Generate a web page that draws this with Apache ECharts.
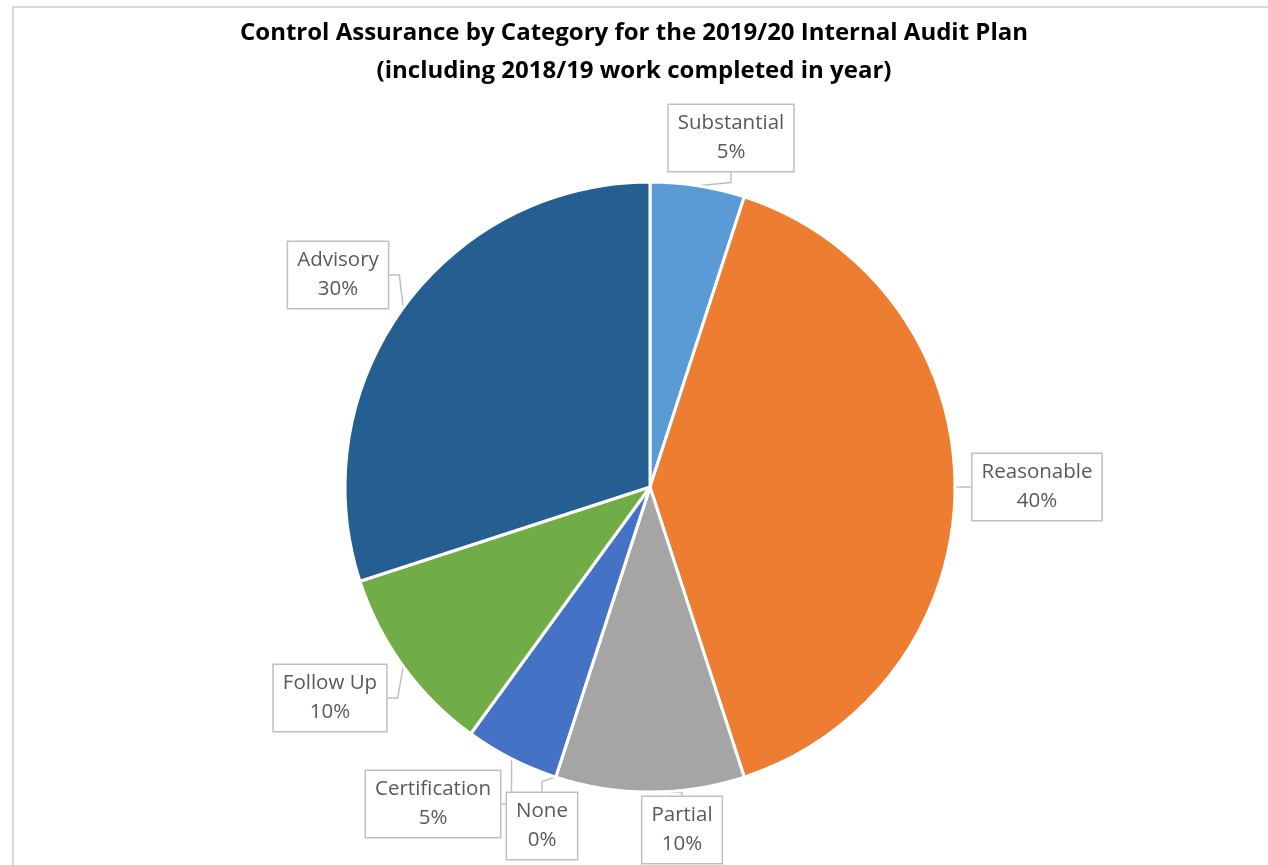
<!DOCTYPE html>
<html><head><meta charset="utf-8">
<script src="https://cdn.jsdelivr.net/npm/echarts@6/dist/echarts.min.js"></script>
<style>
html,body{margin:0;padding:0;background:#fff;}
#frame{position:absolute;left:12px;top:6px;width:1300px;height:900px;border:2px solid #d9d9d9;box-sizing:border-box;}
#main{position:absolute;left:0;top:0;width:1268px;height:865px;}
</style></head>
<body>
<div id="frame"></div>
<div id="main"></div>
<script>
const titleLines = ['Control Assurance by Category for the 2019/20 Internal Audit Plan', '(including 2018/19 work completed in year)'];
const categories = ['Substantial', 'Reasonable', 'Partial', 'None', 'Certification', 'Follow Up', 'Advisory'];
const values = [5, 40, 10, 0, 5, 10, 30];
const colors = ['#5B9BD5', '#ED7D31', '#A5A5A5', '#FFC000', '#4472C4', '#70AD47', '#255E91'];
// label box centres (layout only)
const labelPos = [[731,138],[1037,487],[682,830],[542,826],[433,804],[330,698],[338,275]];

const chart = echarts.init(document.getElementById('main'), null, {renderer:'canvas'});
chart.setOption({
  backgroundColor: 'transparent',
  title: {
    text: titleLines.join('\n'),
    left: 'center', top: 9,
    textStyle: {fontFamily: 'Open Sans', fontWeight: 'bold', fontSize: 24, color: '#000', lineHeight: 38}
  },
  series: [{
    type: 'pie',
    center: [650, 487],
    radius: 305,
    startAngle: 90,
    clockwise: true,
    avoidLabelOverlap: false,
    animation: false,
    data: categories.map((c, i) => ({name: c, value: values[i], itemStyle: {color: colors[i]}})),
    itemStyle: {borderColor: '#fff', borderWidth: 3},
    label: {
      show: true,
      position: 'outside',
      formatter: p => p.name + '\n' + Math.round(p.percent) + '%',
      fontFamily: 'Open Sans', fontSize: 20.5, color: '#595959', lineHeight: 29,
      align: 'center',
      backgroundColor: '#fff', borderColor: '#bfbfbf', borderWidth: 1.5,
      padding: [7, 9, 1, 9]
    },
    labelLine: {show: true, length: 10, length2: 10, lineStyle: {color: '#bfbfbf', width: 1.5}},
    labelLayout: params => ({
      x: labelPos[params.dataIndex][0],
      y: labelPos[params.dataIndex][1],
      align: 'center', verticalAlign: 'middle'
    }),
    emphasis: {disabled: true}
  }]
});
</script>
</body></html>
